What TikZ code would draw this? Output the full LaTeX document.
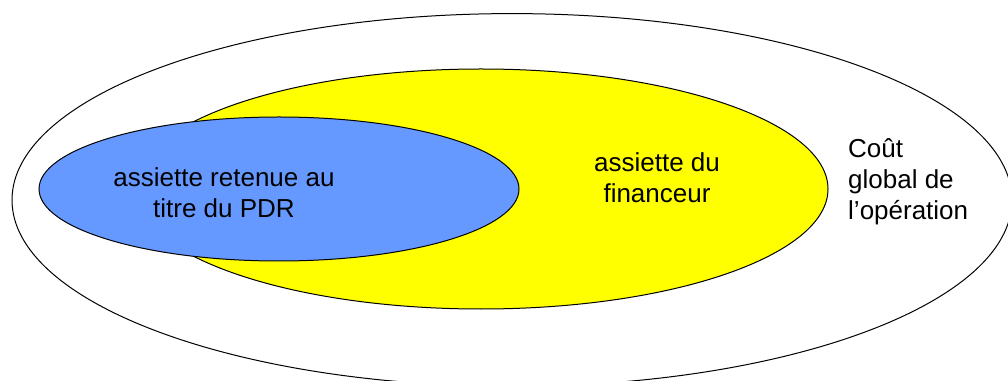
\documentclass[tikz,border=0pt]{standalone}
\usepackage{fontspec}
\setmainfont{Liberation Sans}
\definecolor{blueset}{HTML}{6699FF}
\definecolor{yellowset}{HTML}{FFFF00}
\tikzset{
  setshape/.style={draw=black, line width=1pt},
  lbl/.style={inner sep=0pt, font=\fontsize{26}{31}\selectfont, text=black}
}
\begin{document}
\begin{tikzpicture}[x=1pt,y=1pt]
\useasboundingbox (0,0) rectangle (1008,380);
\fill[white] (0,0) rectangle (1008,380);
\clip (0,0) rectangle (1008,380);
\draw[setshape, fill=white] (512,180) ellipse [x radius=500, y radius=186.4];
\draw[setshape, fill=yellowset] (481,191) ellipse [x radius=347, y radius=120];
\draw[setshape, fill=blueset] (279,191) ellipse [x radius=240, y radius=72];
\node[lbl, align=center, anchor=base] (pdr) at (224,162.7) {assiette retenue au\\titre du PDR};
\node[lbl, align=center, anchor=base] (fin) at (657,177.3) {assiette du\\financeur};
\node[lbl, align=left, anchor=base west] (cout) at (848,160) {Coût\\global de\\l’opération};
\end{tikzpicture}
\end{document}
